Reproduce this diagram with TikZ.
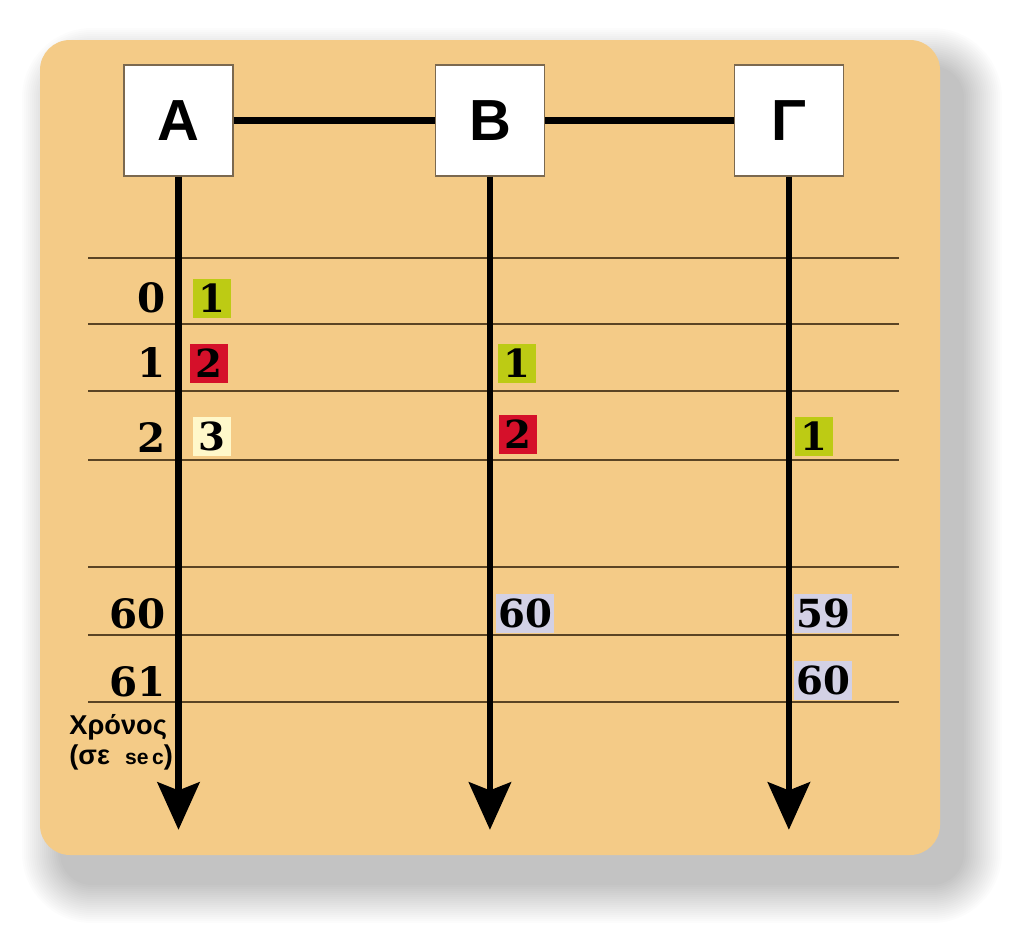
\documentclass[tikz,border=0pt]{standalone}
\usepackage{fontspec}
\setmainfont{DejaVu Serif}
\newfontfamily\stationfont{Liberation Sans}
\usetikzlibrary{positioning,arrows.meta}

\definecolor{peach}{HTML}{F4CB87}
\definecolor{sendgreen}{HTML}{BDCB14}
\definecolor{sendred}{HTML}{D5102A}
\definecolor{sendcream}{HTML}{FFF8CA}
\definecolor{waitblue}{HTML}{D3D1E5}
\definecolor{rulebrown}{HTML}{5A4424}

\tikzset{
    on grid,
    node distance=6cm,
    station/.style = {
        draw=rulebrown!80,
        fill=white,
        shape=rectangle,
        minimum width=2.18cm,
        minimum height=2.22cm,
        line width=0.6pt,
        font=\stationfont\bfseries\fontsize{33}{33}\selectfont
    },
    packet/.style = {
        shape=rectangle,
        anchor=west,
        inner xsep=0.04cm,
        inner ysep=0pt,
        minimum width=0.76cm,
        minimum height=0.78cm,
        font=\bfseries\fontsize{22}{22}\selectfont
    },
    tick/.style = {
        anchor=east,
        inner sep=0pt,
        font=\bfseries\fontsize{23}{23}\selectfont
    },
    caption/.style = {
        anchor=north west,
        align=left,
        inner sep=0pt,
        font=\stationfont\bfseries\fontsize{15.5}{17}\selectfont
    },
    row/.style = {
        draw=rulebrown,
        line width=0.8pt
    },
    link/.style = {
        draw,
        line width=3.8pt
    },
    timeline/.style = {
        draw,
        line width=3.8pt,
        -{Stealth[length=0.95cm, width=0.84cm, inset=0.16cm]}
    },
}

\begin{document}
\begin{tikzpicture}[x=0.02cm, y=-0.02cm]
    \useasboundingbox (0,0) rectangle (1024,940);
    \fill[white] (0,0) rectangle (1024,940);
    \foreach \r in {1,...,20}
        \fill[black, opacity=0.013, rounded corners=0.6cm+\r*0.04cm]
            (62-\r*2,68-\r*2) rectangle (962+\r*2,883+\r*2);
    \fill[peach, rounded corners=0.6cm] (40,40) rectangle (940,855);

    \foreach \y in {258,324,391,460,567,635,702}
        \draw[row] (88,\y) -- (899,\y);

    \node[station] (A) at (178.5,120.5) {Α};
    \node[station, right=6.23cm of A] (B) {Β};
    \node[station, right=5.98cm of B] (G) {Γ};

    \coordinate[below=14.19cm of A] (endA);
    \coordinate[below=14.19cm of B] (endB);
    \coordinate[below=14.19cm of G] (endG);

    \path[link] (A) -- (B);
    \path[link] (B) -- (G);

    \path[timeline] (A) -- (endA);
    \path[timeline] (B) -- (endB);
    \path[timeline] (G) -- (endG);

    \foreach \t/\y in {0/298,1/362,2/437,60/614,61/682}
        \node[tick] (tick\t) at (166,\y) {\t};

    \node[packet, fill=sendgreen] (a0) at (193,298.5) {1};
    \node[packet, fill=sendred] (a1) at (190,363.5) {2};
    \node[packet, fill=sendcream] (a2) at (193,436.5) {3};

    \node[packet, fill=sendgreen] (b1) at (498,363) {1};
    \node[packet, fill=sendred] (b2) at (499,434.5) {2};
    \node[packet, fill=waitblue] (b60) at (496,613) {60};

    \node[packet, fill=sendgreen] (g2) at (795,436) {1};
    \node[packet, fill=waitblue] (g59) at (794,613) {59};
    \node[packet, fill=waitblue] (g60) at (794,680) {60};

    \node[caption] (timecap) at (69,714) {Χρόνος\\(σε\ \ {\fontsize{12}{17}\selectfont se\,c})};
\end{tikzpicture}
\end{document}
